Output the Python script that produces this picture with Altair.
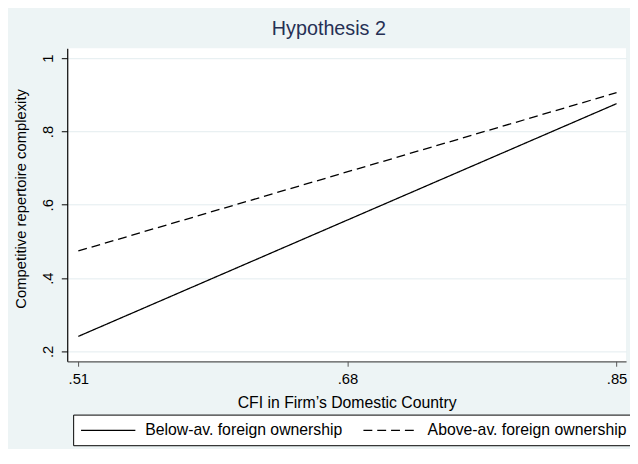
import altair as alt
import pandas as pd

# Data
cfi = [0.51, 0.85]
below_av = [0.241, 0.876]
above_av = [0.474, 0.906]
groups = ["Below-av. foreign ownership", "Above-av. foreign ownership"]
x_ticks = [0.51, 0.68, 0.85]
y_ticks = [0.2, 0.4, 0.6, 0.8, 1.0]

rows = []
for g, vals in zip(groups, [below_av, above_av]):
    for xv, yv in zip(cfi, vals):
        rows.append({"cfi": xv, "crc": yv, "group": g})
df = pd.DataFrame(rows)

FONT = "Liberation Sans"
BG = "#EDF4F5"

chart = alt.Chart(df).mark_line(color="black", strokeWidth=1.3).encode(
    x=alt.X("cfi:Q",
            scale=alt.Scale(domain=[0.503, 0.856], nice=False, zero=False),
            axis=alt.Axis(values=x_ticks, title="CFI in Firm\u2019s Domestic Country",
                          labelExpr="replace(format(datum.value, '.2f'), '0.', '.')",
                          grid=False, domainColor="#555555", domainWidth=1.2,
                          tickColor="#555555", tickSize=5, labelFontSize=15,
                          labelPadding=6, titleFontSize=16, titlePadding=8,
                          labelColor="black", titleColor="black", titleFontWeight="normal",
                          labelFont=FONT, titleFont=FONT)),
    y=alt.Y("crc:Q",
            scale=alt.Scale(domain=[0.173, 1.027], nice=False, zero=False),
            axis=alt.Axis(values=y_ticks, title="Competitive repertoire complexity",
                          labelExpr="datum.value == 1 ? '1' : replace(format(datum.value, '.1f'), '0.', '.')",
                          labelAngle=270, labelAlign="center", labelBaseline="bottom",
                          grid=True, gridColor="#E3ECEF", gridWidth=1,
                          domainColor="black", domainWidth=1.2,
                          tickColor="black", tickSize=6, labelFontSize=15,
                          labelPadding=6, titleFontSize=15, titlePadding=12, titleY=152,
                          labelColor="black", titleColor="black", titleFontWeight="normal",
                          labelFont=FONT, titleFont=FONT)),
    strokeDash=alt.StrokeDash("group:N",
                              scale=alt.Scale(domain=groups, range=[[1, 0], [9, 5]]),
                              legend=alt.Legend(title=None, orient="none", legendX=6, legendY=371,
                                                direction="horizontal", fillColor="white",
                                                strokeColor="black", padding=7,
                                                labelFontSize=16, labelFont=FONT, labelColor="black",
                                                symbolType="M-1,0L5.875,0", symbolSize=256,
                                                symbolStrokeColor="black", symbolStrokeWidth=1.3,
                                                labelOffset=48, columnPadding=18, labelLimit=400)),
).properties(
    width=566,
    height=317,
    title=alt.TitleParams("Hypothesis 2", fontSize=20, font=FONT, color="#263054",
                          fontWeight="normal", anchor="middle", dx=-18, dy=19,
                          baseline="alphabetic", offset=12),
    autosize=alt.AutoSizeParams(type="none"),
    padding={"left": 60, "top": 38, "right": 4, "bottom": 86},
    background=BG,
).configure_view(fill="white", stroke=None)

chart.save("out.html", embed_options={"renderer": "svg", "actions": False})
